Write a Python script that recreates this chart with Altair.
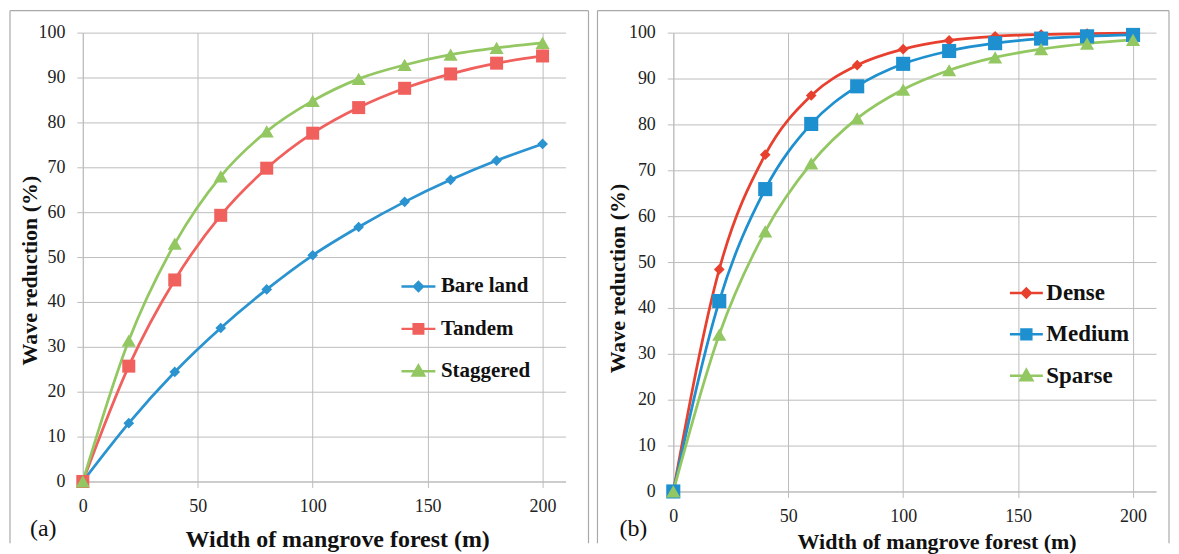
import altair as alt
import pandas as pd

# ---------------- data ----------------
widths = [0, 20, 40, 60, 80, 100, 120, 140, 160, 180, 200]

series_a = ["Bare land", "Tandem", "Staggered"]
bare_land = [0, 13.0, 24.4, 34.2, 42.8, 50.4, 56.7, 62.3, 67.2, 71.5, 75.2]
tandem = [0, 25.7, 44.9, 59.3, 69.8, 77.6, 83.3, 87.6, 90.8, 93.2, 94.8]
staggered = [0, 31.4, 53.0, 68.0, 78.0, 84.8, 89.7, 92.8, 95.1, 96.6, 97.7]

series_b = ["Dense", "Medium", "Sparse"]
dense = [0, 48.4, 73.4, 86.3, 92.9, 96.4, 98.3, 99.2, 99.6, 99.8, 99.9]
medium = [0, 41.5, 65.9, 80.1, 88.3, 93.2, 96.0, 97.7, 98.7, 99.2, 99.5]
sparse = [0, 34.2, 56.7, 71.5, 81.3, 87.6, 91.8, 94.6, 96.4, 97.6, 98.4]

x_ticks = [0, 50, 100, 150, 200]
y_ticks = [0, 10, 20, 30, 40, 50, 60, 70, 80, 90, 100]

colors_a = ["#2a93d0", "#f0605c", "#93c762"]
colors_b = ["#e8402f", "#1e90d0", "#93c762"]
x_title = "Width of mangrove forest (m)"
y_title = "Wave reduction (%)"

SERIF = "Liberation Serif"
GRID = "#bdbdbd"


def long_df(names, values):
    rows = []
    for name, vals in zip(names, values):
        for x, v in zip(widths, vals):
            rows.append({"x": x, "y": v, "series": name})
    return pd.DataFrame(rows)


df_a = long_df(series_a, [bare_land, tandem, staggered])
df_b = long_df(series_b, [dense, medium, sparse])

mark_shapes = ["diamond", "square", "triangle-up"]


def legend_paths(d, s, t):
    return [
        f"M-1,0L1,0M0,-{d}L{d},0L0,{d}L-{d},0Z",
        f"M-1,0L1,0M-{s},-{s}L{s},-{s}L{s},{s}L-{s},{s}Z",
        f"M-1,0L1,0M0,-{t}L{t},{round(t*0.75, 3)}L-{t},{round(t*0.75, 3)}Z",
    ]


def panel(df, names, colors, height, tag, p):
    width = 484
    x_enc = alt.X(
        "x:Q",
        scale=alt.Scale(domain=[0, 210], nice=False, zero=False),
        axis=alt.Axis(
            values=x_ticks, grid=True, gridColor=GRID, domainColor=GRID,
            tickColor=GRID, tickSize=6, labelFont=SERIF, labelFontSize=18,
            labelColor="#222222", labelPadding=p["xlp"], labelFlush=False,
            title=x_title,
            titleFont=SERIF, titleFontSize=p["xtfs"], titleFontWeight="bold",
            titleColor="#111111", titleX=p["xtx"], titleY=p["xty"],
            titleBaseline="middle", titleAnchor="middle",
        ),
    )
    y_enc = alt.Y(
        "y:Q",
        scale=alt.Scale(domain=[0, 100], nice=False),
        axis=alt.Axis(
            values=y_ticks, grid=True, gridColor=GRID, domainColor=GRID,
            tickColor=GRID, tickSize=6, labelFont=SERIF, labelFontSize=18,
            labelColor="#222222", labelPadding=p["ylp"], labelFlush=False,
            title=y_title,
            titleFont=SERIF, titleFontSize=p["ytfs"], titleFontWeight="bold",
            titleColor="#111111", titleX=p["ytx"], titleY=p["yty"],
            titleBaseline="middle", titleAngle=270,
        ),
    )
    one = pd.DataFrame({"k": [0]})
    frame_col = "#a9a9a9"
    fl, fr, ft, fb = p["frame"]
    frame_left = alt.Chart(one).mark_rule(color=frame_col, strokeWidth=1.2).encode(
        x=alt.value(fl), y=alt.value(ft), y2=alt.value(fb))
    frame_right = alt.Chart(one).mark_rule(color=frame_col, strokeWidth=1.2).encode(
        x=alt.value(fr), y=alt.value(ft), y2=alt.value(fb))
    frame_top = alt.Chart(one).mark_rule(color=frame_col, strokeWidth=1.2).encode(
        x=alt.value(fl), x2=alt.value(fr), y=alt.value(ft))
    tag_text = alt.Chart(one).mark_text(
        font=SERIF, fontSize=24, align="left", baseline="middle", color="#111111"
    ).encode(x=alt.value(p["tagx"]), y=alt.value(p["tagy"]), text=alt.value(tag))

    lines = []
    pts = []
    for name, col, shp, sz in zip(names, colors, mark_shapes, p["sizes"]):
        base = alt.Chart(df).transform_filter(alt.datum.series == name)
        lines.append(
            base.mark_line(interpolate="monotone", strokeWidth=2.75, color=col)
            .encode(x=x_enc, y=y_enc)
        )
        pts.append(
            base.mark_point(shape=shp, filled=True, size=sz, color=col, opacity=1)
            .encode(x=x_enc, y=y_enc)
        )
    leg = alt.Legend(
        title=None, orient="none", legendX=p["lx"], legendY=p["ly"],
        symbolSize=p["ss"], symbolStrokeWidth=2.5, symbolOpacity=1,
        labelFont=SERIF, labelFontSize=p["lfs"], labelFontWeight="bold",
        labelColor="#111111", labelOffset=p["lo"], rowPadding=p["rp"], padding=0,
    )
    legend_layer = alt.Chart(df).mark_point(
        filled=True, opacity=0, size=0
    ).encode(
        x=x_enc, y=y_enc,
        fill=alt.Fill("series:N", scale=alt.Scale(domain=names, range=colors), legend=leg),
        stroke=alt.Stroke("series:N", scale=alt.Scale(domain=names, range=colors), legend=leg),
        shape=alt.Shape("series:N", scale=alt.Scale(domain=names, range=p["paths"]), legend=leg),
    )
    return alt.layer(
        frame_left, frame_right, frame_top, tag_text, *lines, *pts, legend_layer
    ).properties(width=width, height=height)


pa = dict(
    xlp=10, xtfs=24, xtx=255, xty=58, ylp=12, ytfs=22, ytx=-53, yty=238,
    frame=(-73, 507, -22, 512), tagx=-53, tagy=498,
    sizes=[115, 170, 200], lx=318, ly=236, ss=1156, lfs=21, lo=4, rp=13.5,
    paths=legend_paths(0.26, 0.28, 0.34),
)
pb = dict(
    xlp=10, xtfs=22, xty=50, xtx=264, ylp=12, ytfs=22, ytx=-56, yty=246,
    frame=(-76, 497, -22, 512), tagx=-54, tagy=498,
    sizes=[115, 200, 200], lx=336, ly=243, ss=1089, lfs=23, lo=2, rp=11.5,
    paths=legend_paths(0.27, 0.3, 0.36),
)

chart_a = panel(df_a, series_a, colors_a, 450, "(a)", pa)
chart_b = panel(df_b, series_b, colors_b, 460, "(b)", pb)

chart = alt.hconcat(chart_a, chart_b, spacing=108, bounds="flush").properties(
    padding=0
).configure_view(stroke="transparent").configure_axis(
    labelFont=SERIF, labelFontSize=18
).resolve_scale(
    fill="independent", stroke="independent", shape="independent"
).resolve_legend(
    fill="independent", stroke="independent", shape="independent"
)

chart.save("out.html", embed_options={"renderer": "svg", "actions": False})
